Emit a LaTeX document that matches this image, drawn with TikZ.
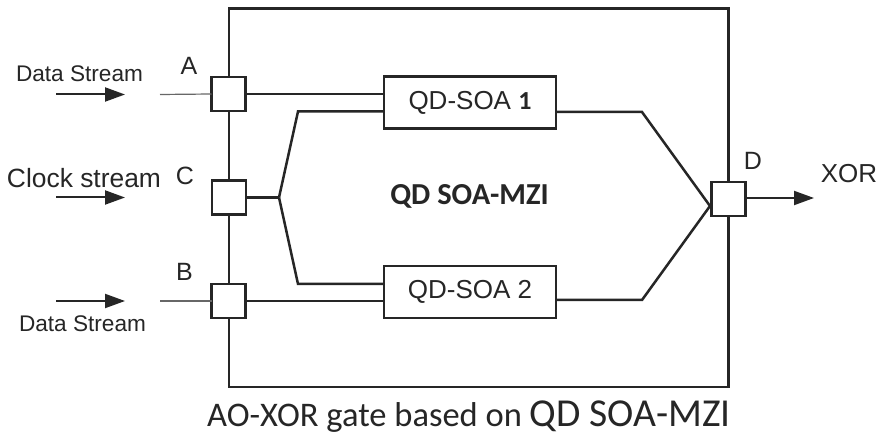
\documentclass[tikz,border=0pt]{standalone}
\usepackage{fontspec}
\setmainfont{Liberation Sans}
\newfontfamily\calibfont{Carlito}
\usetikzlibrary{arrows.meta}
\definecolor{ink}{HTML}{262626}
\tikzset{
 wire/.style={draw=ink,line width=2.5pt,line join=miter},
 thin wire/.style={draw=ink!70,line width=1.2pt},
 port/.style={draw=ink,line width=2.2pt,fill=white,minimum width=34pt,minimum height=34pt,inner sep=0,outer sep=0},
 soa/.style={draw=ink,line width=2.2pt,fill=white,minimum width=172pt,minimum height=52pt,inner sep=0,outer sep=0,text=ink,font=\fontsize{26}{28}\selectfont},
 lab/.style={text=ink,inner sep=0,font=\fontsize{25}{27}\selectfont},
 small/.style={text=ink,inner sep=0,font=\fontsize{22.6}{25}\selectfont},
 flow/.style={draw=ink,line width=2pt,-{Triangle[length=20pt,width=14pt]}},
}
\begin{document}
\begin{tikzpicture}[x=1pt,y=-1pt]
\useasboundingbox (0,0) rectangle (881,435);
\fill[white] (0,0) rectangle (881,435);
\coordinate (tl) at (229,8.5);
\coordinate (br) at (728.5,387);
\draw[wire] (tl) rectangle (br);
\node[port] (A) at (228.5,94) {};
\node[port] (C) at (229,197.5) {};
\node[port] (B) at (228.5,301) {};
\node[port] (D) at (728.5,199) {};
\node[soa] (S1) at (470,102.5) {QD-SOA {\calibfont\bfseries 1}};
\node[soa] (S2) at (470,292) {QD-SOA 2};
\coordinate (Ain) at (160,94.5);
\coordinate (Bin) at (160,301);
\coordinate (J) at (279,197.5);
\coordinate (Ju) at (298,111.5);
\coordinate (Jd) at (298,284);
\coordinate (Ou) at (642,112);
\coordinate (Od) at (642,300);
\coordinate (M) at (710,206);
\coordinate (Out) at (814,198);
\coordinate (a1) at (56,94.5);\coordinate (a2) at (125,94.5);
\coordinate (c1) at (56,197.5);\coordinate (c2) at (125,197.5);
\coordinate (b1) at (56,301);\coordinate (b2) at (125,301);
\draw[thin wire] (Ain) -- (A.west);
\draw[thin wire] (Bin) -- (B.west);
\draw[wire] (A.east) -- (A.east -| S1.west);
\draw[wire] (B.east) -- (B.east -| S2.west);
\draw[wire] (C.east) -- (J);
\draw[wire] (J) -- (Ju) -- (Ju -| S1.west);
\draw[wire] (J) -- (Jd) -- (Jd -| S2.west);
\draw[wire] (Ou -| S1.east) -- (Ou) -- (M);
\draw[wire] (Od -| S2.east) -- (Od) -- (M);
\draw[flow] (D.east |- Out) -- (Out);
\draw[flow] (a1) -- (a2);
\draw[flow] (c1) -- (c2);
\draw[flow] (b1) -- (b2);
\node[small] (t1) at (79.5,74) {Data Stream};
\node[small] (t2) at (82.5,324) {Data Stream};
\node[lab,font=\fontsize{26.4}{28}\selectfont] (t3) at (84,178) {Clock stream};
\node[lab] (la) at (189,66) {A};
\node[lab] (lc) at (185,176) {C};
\node[lab] (lb) at (184.5,272) {B};
\node[lab] (ld) at (753,161) {D};
\node[lab,font=\fontsize{26}{28}\selectfont] (lx) at (849,174) {XOR};
\node[inner sep=0,text=ink,font=\calibfont\bfseries\fontsize{30.5}{32}\selectfont] (mid) at (469.5,196) {QD SOA-MZI};
\node[inner sep=0,anchor=base,text=ink,font=\calibfont\fontsize{34.5}{36}\selectfont] (cap) at (469,426.5) {AO-XOR gate based on {\fontsize{39.6}{41}\selectfont QD SOA-MZI}};
\end{tikzpicture}
\end{document}
